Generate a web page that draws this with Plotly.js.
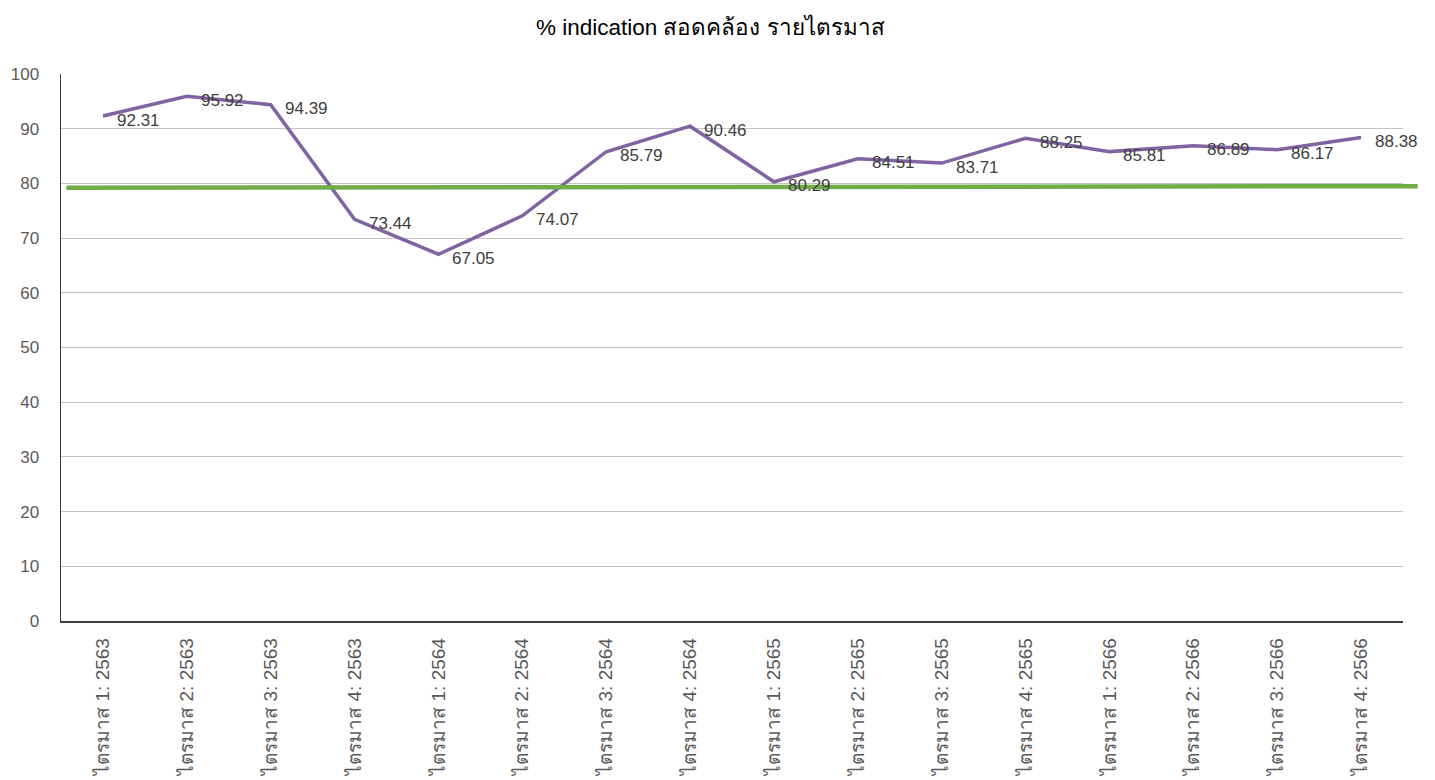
<!DOCTYPE html>
<html><head><meta charset="utf-8">
<script src="https://cdn.plot.ly/plotly-3.0.1.min.js"></script>
<style>html,body{margin:0;padding:0;background:#fff;}#chart{width:1435px;height:780px;}</style>
</head><body><div id="chart"></div>
<script>
const categories = ["ไตรมาส 1: 2563","ไตรมาส 2: 2563","ไตรมาส 3: 2563","ไตรมาส 4: 2563",
  "ไตรมาส 1: 2564","ไตรมาส 2: 2564","ไตรมาส 3: 2564","ไตรมาส 4: 2564",
  "ไตรมาส 1: 2565","ไตรมาส 2: 2565","ไตรมาส 3: 2565","ไตรมาส 4: 2565",
  "ไตรมาส 1: 2566","ไตรมาส 2: 2566","ไตรมาส 3: 2566","ไตรมาส 4: 2566"];
const values = [92.31,95.92,94.39,73.44,67.05,74.07,85.79,90.46,80.29,84.51,83.71,88.25,85.81,86.89,86.17,88.38];
const targetStart = 79.2;
const targetEnd = 79.5;
const yTicks = [0,10,20,30,40,50,60,70,80,90,100];

const idx = categories.map((c,i)=>i);
const annotations = values.map((v,i)=>({
  x: i, y: v, xref:'x', yref:'y', text: v.toFixed(2), showarrow:false,
  xanchor:'left', yanchor:'middle', xshift: 12, yshift: -4,
  font:{family:'Liberation Sans, Arial, sans-serif', size:17, color:'#404040'}
}));

const traces = [{
  x: idx, y: values, type:'scatter', mode:'lines',
  line:{color:'#8064A2', width:3.5}, hoverinfo:'y', cliponaxis:false
}];

const layout = {
  width:1435, height:780,
  margin:{l:61, r:32, t:74, b:159},
  paper_bgcolor:'#fff', plot_bgcolor:'#fff',
  showlegend:false,
  title:{text:'% indication สอดคล้อง รายไตรมาส', x:0.495, xref:'container', xanchor:'center', y:0.965, yanchor:'middle',
    font:{family:'Liberation Sans, Arial, sans-serif', size:22.5, color:'#000'}},
  xaxis:{range:[-0.5,15.5], tickmode:'array', tickvals:idx, ticktext:categories, tickangle:-90,
    showgrid:false, zeroline:false, showline:true, linecolor:'#404040', linewidth:1.5, ticks:'', ticklabelstandoff:8,
    tickfont:{family:'Liberation Sans, Arial, sans-serif', size:19, color:'#595959'}, automargin:false, fixedrange:true},
  yaxis:{range:[0,100], tickmode:'array', tickvals:yTicks, showgrid:true, gridcolor:'#c4c4c4', gridwidth:1,
    zeroline:false, showline:true, linecolor:'#404040', linewidth:1.5, ticks:'', ticklabelstandoff:17,
    tickfont:{family:'Liberation Sans, Arial, sans-serif', size:17, color:'#595959'}, automargin:false, fixedrange:true},
  shapes:[{type:'line', xref:'paper', yref:'y', x0:0.004, x1:1.011, y0:targetStart, y1:targetEnd,
    line:{color:'#70AD47', width:4.5}, layer:'above'}],
  annotations: annotations
};
Plotly.newPlot('chart', traces, layout, {displayModeBar:false, staticPlot:true});
</script></body></html>
